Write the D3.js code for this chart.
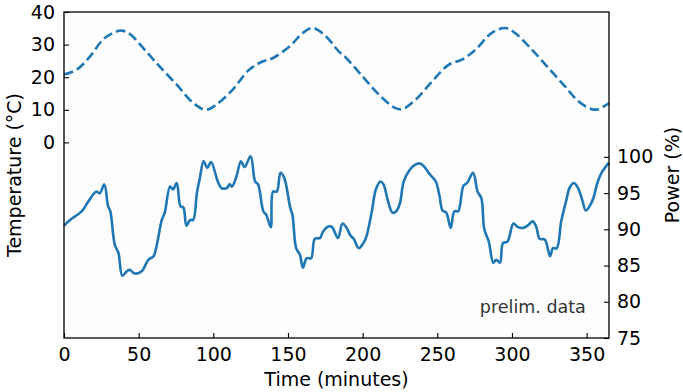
<!DOCTYPE html>
<html>
<head>
<meta charset="utf-8">
<script src="https://cdn.jsdelivr.net/npm/d3@7"></script>
<style>
    body { margin: 0; background: #ffffff; }
    .chart text { font-family: "DejaVu Sans", sans-serif; fill: #000; }
    .axis path, .axis line { stroke: #000; }
</style>
</head>
<body>
<div class="chart"></div>
<script>
// DATA //
var tempTime = [0, 8.5, 17.5, 26, 33, 38.5, 44, 55, 64, 75.5,
    86.5, 95, 102, 113, 124, 133, 140, 151, 160, 166.5,
    175.5, 184, 189, 200, 211, 222, 226.5, 235.5, 246.5, 257.5,
    266.5, 275.5, 286.5, 295.5, 302, 313.5, 324.5, 335.5, 344.5, 353.5,
    358, 365];
var tempValues = [20.8, 22.3, 26.4, 31.5, 33.6, 34.3, 33.3, 27.9, 23.3, 17.7,
    12.1, 10.0, 11.6, 16.2, 22.3, 24.8, 25.9, 29.4, 33.6, 35.1,
    32.5, 27.9, 25.9, 20.2, 14.6, 10.5, 10.2, 13.1, 18.7, 23.8,
    25.4, 28.4, 33.6, 35.1, 33.6, 28.4, 22.8, 17.2, 12.6, 10.2,
    10.2, 12.1];

var powerTime = [0, 4, 7.5, 12, 16.5, 21.5, 24, 27, 29.5, 31,
    34, 36.5, 39, 42, 44, 47.5, 52, 56.5, 60, 62,
    65.5, 67.5, 71, 73, 75.5, 78, 80, 82, 84.5, 86.5,
    89, 91, 93.5, 96, 98.5, 103, 105.5, 109, 111, 112.5,
    115.5, 118.5, 121, 125, 128, 130, 133.5, 135.5, 138.5, 140,
    142.5, 145, 147.5, 151.5, 153, 155.5, 158, 160, 162.5, 165.5,
    168, 171.5, 173.5, 177, 179.5, 183.5, 186.5, 189, 192, 194,
    197.5, 200.5, 202.5, 206, 209, 212, 214, 217, 220, 222.5,
    225, 227.5, 231.5, 235, 238.5, 241.5, 245, 249, 251.5, 253.5,
    256, 259, 261.5, 264, 267.5, 270, 274, 277, 279.5, 281.5,
    284.5, 287.5, 289.5, 292, 294, 297, 301, 304, 307.5, 311,
    314, 316.5, 318.5, 322, 325.5, 327.5, 330, 333, 336.5, 338.5,
    341.5, 344.5, 347, 349.5, 352, 354.5, 357.5, 360, 365];
var powerValues = [90.5, 91.3, 91.8, 92.5, 93.9, 95.2, 95.0, 96.2, 93.2, 92.5,
    87.9, 86.7, 83.6, 84.2, 84.4, 83.9, 84.2, 85.8, 86.3, 87.7,
    91.3, 92.3, 95.9, 95.5, 96.4, 93.2, 93.0, 90.5, 91.3, 91.3,
    95.0, 97.1, 99.4, 98.5, 99.3, 96.6, 95.7, 95.7, 96.2, 95.9,
    97.3, 99.4, 98.6, 100.1, 96.6, 96.2, 92.5, 92.0, 90.3, 95.2,
    95.2, 97.8, 97.1, 93.0, 92.0, 87.4, 86.5, 84.7, 86.0, 86.0,
    88.7, 88.8, 89.7, 90.4, 90.3, 88.8, 90.8, 90.3, 89.1, 88.7,
    87.4, 88.1, 89.0, 92.3, 95.6, 96.6, 96.2, 93.9, 92.3, 92.5,
    93.6, 96.6, 98.2, 98.9, 99.1, 98.6, 97.6, 96.6, 94.6, 92.6,
    92.3, 90.2, 92.5, 92.5, 96.0, 96.4, 97.8, 95.2, 94.3, 90.0,
    88.3, 85.4, 85.8, 85.4, 88.1, 88.3, 90.8, 90.3, 90.2, 90.6,
    91.1, 90.2, 88.7, 88.6, 86.3, 87.4, 87.4, 91.1, 94.1, 95.7,
    96.4, 95.6, 94.1, 92.6, 93.2, 94.3, 96.6, 97.8, 99.2];

var timeTicks = [0, 50, 100, 150, 200, 250, 300, 350];
var tempTicks = [0, 10, 20, 30, 40];
var powerTicks = [75, 80, 85, 90, 95, 100];

// LAYOUT //
var width = 683,
    height = 392,
    margin = { top: 12, right: 74, bottom: 54, left: 64 },
    innerW = width - margin.left - margin.right,
    innerH = height - margin.top - margin.bottom,
    blue = '#1f77b4',
    fontSize = 19;

var svg = d3.select('.chart').append('svg')
    .attr('width', width)
    .attr('height', height);

var g = svg.append('g')
    .attr('transform', 'translate(' + margin.left + ',' + margin.top + ')');

g.append('rect')
    .attr('width', innerW)
    .attr('height', innerH)
    .attr('fill', '#fdfdfd');

// SCALES //
var xScale = d3.scaleLinear().domain([0, 365]).range([0, innerW]);
var yTemp = d3.scaleLinear().domain([-60, 40]).range([innerH, 0]);
var yPower = d3.scaleLinear().domain([75, 120]).range([innerH, 0]);

// LINES //
var tempLine = d3.line()
    .x(function(d, i) { return xScale(tempTime[i]); })
    .y(function(d) { return yTemp(d); })
    .curve(d3.curveCatmullRom);

var powerLine = d3.line()
    .x(function(d, i) { return xScale(powerTime[i]); })
    .y(function(d) { return yPower(d); })
    .curve(d3.curveCatmullRom);

g.append('path')
    .datum(tempValues)
    .attr('fill', 'none')
    .attr('stroke', blue)
    .attr('stroke-width', 2.6)
    .attr('stroke-dasharray', '9.6,4.2')
    .attr('d', tempLine);

g.append('path')
    .datum(powerValues)
    .attr('fill', 'none')
    .attr('stroke', blue)
    .attr('stroke-width', 2.6)
    .attr('stroke-linejoin', 'round')
    .attr('d', powerLine);

// AXES //
function styleAxis(sel) {
    sel.select('.domain').remove();
    sel.selectAll('line').attr('stroke', '#000').attr('stroke-width', 1.1);
    sel.selectAll('text').style('font-size', fontSize + 'px');
}

var xAxis = g.append('g')
    .attr('class', 'axis x')
    .attr('transform', 'translate(0,' + innerH + ')')
    .call(d3.axisBottom(xScale).tickValues(timeTicks).tickSize(-5).tickPadding(10))
    .call(styleAxis);

var yAxisL = g.append('g')
    .attr('class', 'axis y')
    .call(d3.axisLeft(yTemp).tickValues(tempTicks).tickSize(-5).tickPadding(9))
    .call(styleAxis);

var yAxisR = g.append('g')
    .attr('class', 'axis y2')
    .attr('transform', 'translate(' + innerW + ',0)')
    .call(d3.axisRight(yPower).tickValues(powerTicks).tickSize(-5).tickPadding(8))
    .call(styleAxis);

// FRAME //
g.append('rect')
    .attr('width', innerW)
    .attr('height', innerH)
    .attr('fill', 'none')
    .attr('stroke', '#000')
    .attr('stroke-width', 1.3);

// LABELS //
svg.append('text')
    .attr('x', margin.left + innerW / 2)
    .attr('y', 386)
    .attr('text-anchor', 'middle')
    .style('font-size', fontSize + 'px')
    .text('Time (minutes)');

svg.append('text')
    .attr('transform', 'translate(21,' + (margin.top + innerH / 2) + ') rotate(-90)')
    .attr('text-anchor', 'middle')
    .style('font-size', fontSize + 'px')
    .text('Temperature (°C)');

svg.append('text')
    .attr('transform', 'translate(679,' + (margin.top + innerH / 2) + ') rotate(-90)')
    .attr('text-anchor', 'middle')
    .style('font-size', fontSize + 'px')
    .text('Power (%)');

g.append('text')
    .attr('x', xScale(349.5))
    .attr('y', 300.5)
    .attr('text-anchor', 'end')
    .style('font-size', '17.5px')
    .style('fill', '#333')
    .text('prelim. data');
</script>
</body>
</html>
